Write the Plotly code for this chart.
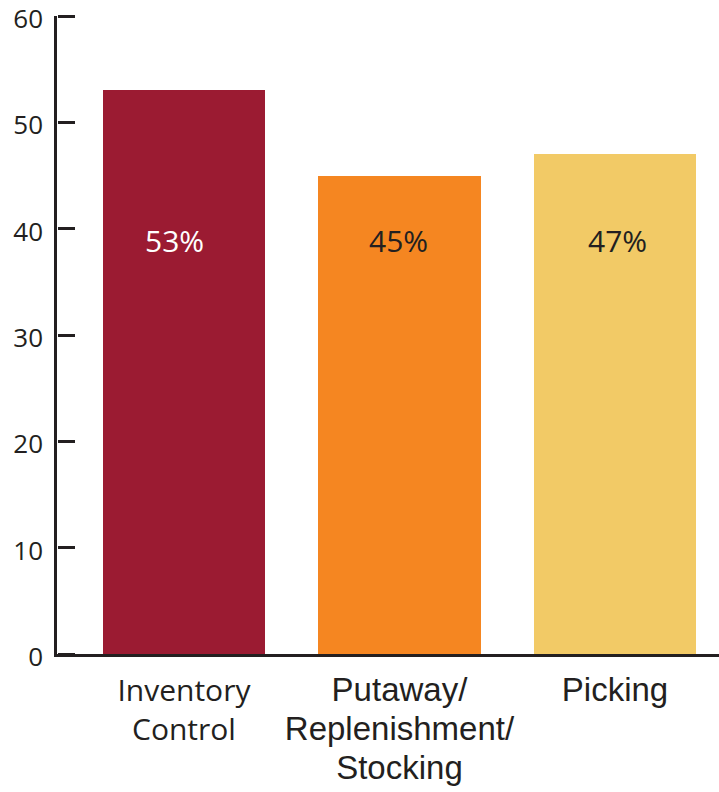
import plotly.graph_objects as go

categories = ["Inventory<br>Control", "Putaway/<br>Replenishment/<br>Stocking", "Picking"]
category_styles = ["", "font-family:Liberation Sans;font-size:33px", "font-family:Liberation Sans;font-size:33px"]
values = [53, 45, 47]
value_labels = ["53%", "45%", "47%"]
bar_colors = ["#9B1B32", "#F58621", "#F2CA66"]
label_colors = ["#FFFFFF", "#231F20", "#231F20"]
label_y = 38.9
y_ticks = [0, 10, 20, 30, 40, 50, 60]

xpos = list(range(len(categories)))
ticktext = [f'<span style="{s}">{c}</span>' if s else c for c, s in zip(categories, category_styles)]

fig = go.Figure()
fig.add_trace(go.Bar(
    x=xpos, y=values, width=0.752,
    marker=dict(color=bar_colors, line=dict(width=0)),
    hoverinfo="skip",
))
# invisible trace carrying the secondary y-axis used for the inward tick marks
fig.add_trace(go.Scatter(
    x=[xpos[0]], y=[y_ticks[0]], yaxis="y2", mode="markers",
    marker=dict(opacity=0), hoverinfo="skip", showlegend=False,
))

for i, (lab, col) in enumerate(zip(value_labels, label_colors)):
    fig.add_annotation(
        x=xpos[i], y=label_y, text=lab, showarrow=False,
        xshift=-9 if i == 0 else (-1 if i == 1 else 3),
        font=dict(family="Open Sans", size=30, color=col),
    )

fig.update_layout(
    width=719, height=792,
    margin=dict(l=57, r=0, t=16, b=138),
    plot_bgcolor="white", paper_bgcolor="white",
    showlegend=False,
    bargap=0,
    yaxis2=dict(
        overlaying="y", side="right", anchor="free", position=0,
        range=[0, 60], tickmode="array", tickvals=y_ticks,
        showticklabels=False, showline=False, showgrid=False, zeroline=False,
        ticks="outside", ticklen=17, tickwidth=2.5, tickcolor="#231F20",
        automargin=False, fixedrange=True,
    ),
)
fig.update_xaxes(
    range=[-0.589, 2.4826],
    tickvals=xpos, ticktext=ticktext,
    showline=True, linecolor="#231F20", linewidth=2.5,
    ticks="", showgrid=False, zeroline=False,
    ticklabelstandoff=8,
    tickfont=dict(family="Open Sans", size=30, color="#231F20"),
    automargin=False,
    fixedrange=True,
)
fig.update_yaxes(
    selector=dict(overlaying=None),
    range=[0, 60],
    tickmode="array",
    tickvals=y_ticks,
    ticktext=[str(v) for v in y_ticks],
    ticklabeloverflow="allow",
    ticklabelshift=3,
    ticklabelstandoff=6,
    automargin=False,
    showline=True, linecolor="#231F20", linewidth=2.5,
    ticks="",
    showgrid=False, zeroline=False,
    tickfont=dict(family="Open Sans", size=26, color="#231F20"),
    fixedrange=True,
)

fig.write_html("out.html", config={"displayModeBar": False})
